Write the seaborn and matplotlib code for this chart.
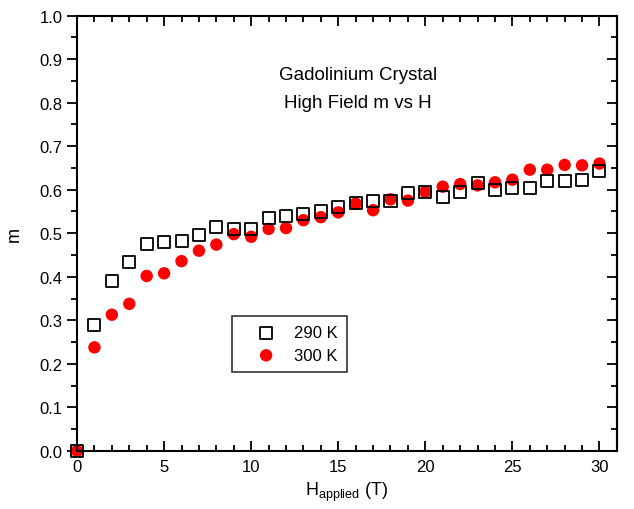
import numpy as np
import pandas as pd
import matplotlib
matplotlib.use("Agg")
import matplotlib.pyplot as plt
import seaborn as sns
from matplotlib.ticker import MultipleLocator

H = list(range(0, 31))
m_290 = [0.0, 0.29, 0.39, 0.435, 0.475, 0.48, 0.483, 0.495, 0.515, 0.51, 0.51,
         0.535, 0.54, 0.545, 0.55, 0.56, 0.57, 0.575, 0.575, 0.593, 0.595,
         0.583, 0.595, 0.615, 0.60, 0.605, 0.605, 0.62, 0.62, 0.622, 0.643]
m_300 = [0.0, 0.238, 0.313, 0.338, 0.402, 0.408, 0.436, 0.46, 0.474, 0.498, 0.492,
         0.51, 0.512, 0.53, 0.537, 0.548, 0.568, 0.553, 0.578, 0.575, 0.595,
         0.607, 0.613, 0.61, 0.617, 0.623, 0.646, 0.646, 0.657, 0.656, 0.66]
labels = ["290 K", "300 K"]

sns.set_style("white")
plt.rcParams['font.family'] = ['Liberation Sans', 'DejaVu Sans']
plt.rcParams['text.color'] = 'black'
plt.rcParams['axes.labelcolor'] = 'black'
plt.rcParams['xtick.color'] = 'black'
plt.rcParams['ytick.color'] = 'black'

fig = plt.figure(figsize=(6.34, 5.10), dpi=100)
ax = fig.add_axes([0.1215, 0.1137, 0.8515, 0.8539])

df290 = pd.DataFrame({"H": H, "m": m_290})
df300 = pd.DataFrame({"H": H, "m": m_300})

sns.scatterplot(data=df290, x="H", y="m", ax=ax, marker="s", s=75,
                facecolor="none", edgecolor="black", linewidth=1.3,
                label=labels[0], zorder=3, clip_on=False)
sns.scatterplot(data=df300, x="H", y="m", ax=ax, marker="o", s=80,
                color="#ff0000", edgecolor="none", linewidth=0,
                label=labels[1], zorder=2, clip_on=False)

ax.set_xlim(0, 31)
ax.set_ylim(0, 1.0)
ax.xaxis.set_major_locator(MultipleLocator(5))
ax.xaxis.set_minor_locator(MultipleLocator(1))
ax.yaxis.set_major_locator(MultipleLocator(0.1))
ax.yaxis.set_minor_locator(MultipleLocator(0.05))
ax.yaxis.set_major_formatter(matplotlib.ticker.FormatStrFormatter('%.1f'))

for sp in ax.spines.values():
    sp.set_visible(True)
    sp.set_color("black")
    sp.set_linewidth(1.5)

ax.tick_params(axis='x', which='both', direction='in', top=True, bottom=True,
               labelsize=12, color='black', width=1.3)
ax.tick_params(axis='x', which='major', length=7, pad=6)
ax.tick_params(axis='x', which='minor', length=4)
ax.tick_params(axis='y', which='both', direction='out', left=True, right=False,
               labelsize=12, color='black', width=1.3)
ax.tick_params(axis='y', which='major', length=7)
ax.tick_params(axis='y', which='minor', length=4)

# right-side inward ticks
axr = ax.secondary_yaxis('right')
axr.yaxis.set_major_locator(MultipleLocator(0.1))
axr.yaxis.set_minor_locator(MultipleLocator(0.05))
axr.tick_params(axis='y', which='both', direction='in', labelright=False,
                width=1.3, color='black')
axr.tick_params(axis='y', which='major', length=7)
axr.tick_params(axis='y', which='minor', length=4)
axr.spines['right'].set_linewidth(1.5)

ax.set_xlabel(r"H$_{\mathregular{applied}}$ (T)", fontsize=13, labelpad=4)
ax.set_ylabel("m", fontsize=13, labelpad=12)

ax.text(0.52, 0.865, "Gadolinium Crystal", transform=ax.transAxes,
        ha='center', va='center', fontsize=13.5)
ax.text(0.52, 0.80, "High Field m vs H", transform=ax.transAxes,
        ha='center', va='center', fontsize=13.5)

leg = ax.legend(loc='upper left', bbox_to_anchor=(0.287, 0.31), frameon=True,
                fancybox=False, edgecolor='black', fontsize=12,
                handletextpad=0.2, borderpad=0.55, labelspacing=0.45,
                borderaxespad=0, handlelength=3.0)
leg.get_frame().set_linewidth(1.2)

fig.savefig("out.png", dpi=100)
